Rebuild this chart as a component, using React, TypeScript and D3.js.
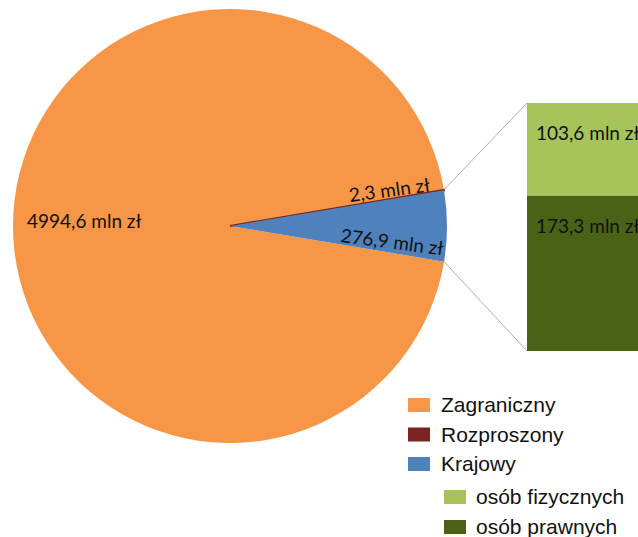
import React from "react";
import * as d3 from "d3";

const categories = ["Zagraniczny", "Rozproszony", "Krajowy"];
const values = [4994.6, 2.3, 276.9];
const pieLabels = ["4994,6 mln zł", "2,3 mln zł", "276,9 mln zł"];
const subCategories = ["osób fizycznych", "osób prawnych"];
const subValues = [103.6, 173.3];
const subLabels = ["103,6 mln zł", "173,3 mln zł"];
const colors = ["#f79646", "#7b2520", "#4f81bd"];
const subColors = ["#a6c45a", "#4a6216"];

export default function App() {
  const W = 638, H = 537;
  const cx = 230, cy = 226, r = 217;
  const total = d3.sum(values);
  const blueAngle = (values[2] / total) * 2 * Math.PI;
  const start = Math.PI / 2 + blueAngle / 2 - 2 * Math.PI;
  const arcs = d3.pie<number>().sort(null).startAngle(start).endAngle(start + 2 * Math.PI)(values);
  const arcGen = d3.arc<d3.PieArcDatum<number>>().innerRadius(0).outerRadius(r);

  const barX = 527, barW = 130, barTop = 103, barBottom = 351;
  const y = d3.scaleLinear().domain([0, d3.sum(subValues)]).range([barTop, barBottom]);
  const subStarts = subValues.map((_, i) => d3.sum(subValues.slice(0, i)));

  const blue = arcs[2];
  const pt = (a: number) => [cx + r * Math.sin(a), cy - r * Math.cos(a)];
  const p1 = pt(arcs[1].startAngle);
  const p2 = pt(blue.endAngle);

  const labelFont = "Lato, 'Open Sans', sans-serif";
  const legendFont = "'Liberation Sans', Arial, sans-serif";

  return (
    <svg width={W} height={H} style={{ position: "absolute", left: 0, top: 0 }}>
      <rect width={W} height={H} fill="#fff" />
      <g transform={`translate(${cx},${cy})`}>
        {arcs.map((a, i) => (
          <path key={i} d={arcGen(a) || ""} fill={colors[i]}
            stroke={i === 1 ? colors[1] : "none"} strokeWidth={i === 1 ? 2 : 0} />
        ))}
      </g>
      <line x1={p1[0]} y1={p1[1]} x2={barX} y2={barTop} stroke="#999" strokeWidth={0.8} />
      <line x1={p2[0]} y1={p2[1]} x2={barX} y2={barBottom} stroke="#999" strokeWidth={0.8} />
      {subValues.map((v, i) => (
        <rect key={i} x={barX} y={y(subStarts[i])} width={barW} height={y(v) - y(0)} fill={subColors[i]} />
      ))}
      {subLabels.map((l, i) => (
        <text key={i} x={536} y={y(subStarts[i]) + 37} fontFamily={labelFont} fontSize={19} fill="#111">{l}</text>
      ))}
      <text x={27} y={228} fontFamily={labelFont} fontSize={19} fill="#111">{pieLabels[0]}</text>
      <text transform="translate(350,202) rotate(-7.5)" fontFamily={labelFont} fontSize={19} fill="#111">{pieLabels[1]}</text>
      <text transform="translate(340,242) rotate(7.4)" fontFamily={labelFont} fontSize={19} fill="#111">{pieLabels[2]}</text>
      {categories.map((c, i) => (
        <g key={c} transform={`translate(408,${398 + i * 29.5})`}>
          <rect width={22} height={14} fill={colors[i]} />
          <text x={33} y={14} fontFamily={legendFont} fontSize={21} fill="#111">{c}</text>
        </g>
      ))}
      {subCategories.map((c, i) => (
        <g key={c} transform={`translate(444,${490 + i * 30})`}>
          <rect width={22} height={14} fill={subColors[i]} />
          <text x={32} y={14} fontFamily={legendFont} fontSize={21} fill="#111">{c}</text>
        </g>
      ))}
    </svg>
  );
}
